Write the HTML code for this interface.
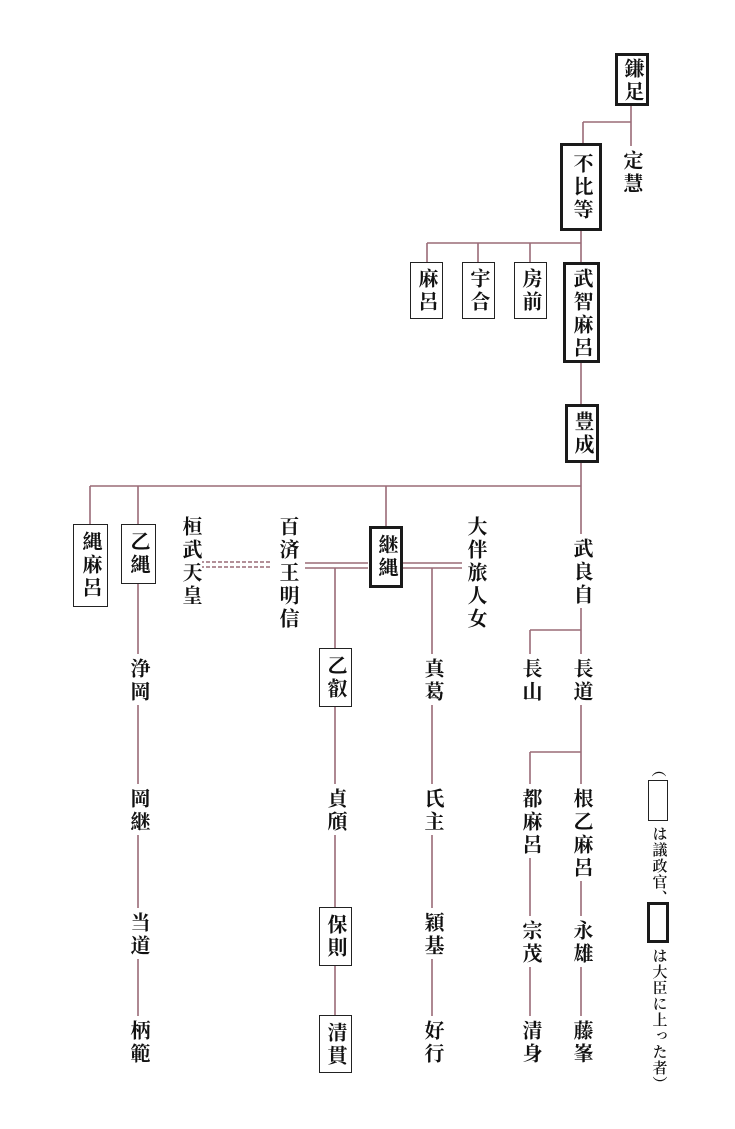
<!DOCTYPE html>
<html><head><meta charset="utf-8"><style>
body{margin:0;background:#fff;}
#c{position:relative;width:735px;height:1129px;overflow:hidden;background:#fff;}
svg{position:absolute;left:0;top:0;}
.v{position:absolute;writing-mode:vertical-rl;font-family:"Liberation Serif","Noto Serif CJK SC",serif;font-size:20px;line-height:20px;letter-spacing:3px;color:#111;font-weight:700;transform:translateX(-50%);background:#fff;padding:4px 2px 1px 2px;}
.i{background:transparent;padding:0;}
.b{position:absolute;border:1.5px solid #222;box-sizing:border-box;}
.t{border:3.5px solid #1a1a1a;}
.s{font-size:15px;line-height:15px;letter-spacing:1px;padding:0;background:transparent;font-weight:600;}
</style></head><body><div id="c">
<svg width="735" height="1129" stroke="#9a6b77" stroke-width="1.6" fill="none">
<path d="M631 105V150M583 122H631M583 122V143"/>
<path d="M581 230V262M427 243H581M427 243V262M478 243V262M530 243V262"/>
<path d="M581 362V404M581 462V540M90 486H581M90 486V524M138 486V1060M386 486V526"/>
<path d="M200 562H272M200 567H272" stroke-dasharray="4 2"/>
<path d="M305 563H368M305 568H368M402 563H462M402 568H462"/>
<path d="M335 568V1070M432 568V1060"/>
<path d="M581 600V1060M530 630H581M530 630V660M530 752H581M530 752V1060"/>
</svg>
<div class="b t" style="left:615px;top:53px;width:34px;height:53px;background:#fff"></div>
<div class="v i" style="left:632px;top:58px">鎌足</div>
<div class="v" style="left:631px;top:146px">定慧</div>
<div class="b t" style="left:560px;top:143px;width:42px;height:88px;background:#fff"></div>
<div class="v i" style="left:581px;top:153px">不比等</div>
<div class="b" style="left:410px;top:262px;width:33px;height:57px;background:#fff"></div>
<div class="v i" style="left:426px;top:268px">麻呂</div>
<div class="b" style="left:462px;top:262px;width:33px;height:57px;background:#fff"></div>
<div class="v i" style="left:478px;top:268px">宇合</div>
<div class="b" style="left:514px;top:262px;width:33px;height:57px;background:#fff"></div>
<div class="v i" style="left:530px;top:268px">房前</div>
<div class="b t" style="left:563px;top:262px;width:37px;height:101px;background:#fff"></div>
<div class="v i" style="left:581px;top:268px">武智麻呂</div>
<div class="b t" style="left:565px;top:404px;width:34px;height:59px;background:#fff"></div>
<div class="v i" style="left:582px;top:411px">豊成</div>
<div class="b" style="left:73px;top:524px;width:35px;height:83px;background:#fff"></div>
<div class="v i" style="left:90px;top:531px">縄麻呂</div>
<div class="b" style="left:121px;top:524px;width:35px;height:60px;background:#fff"></div>
<div class="v i" style="left:138px;top:531px">乙縄</div>
<div class="v" style="left:190px;top:512px">桓武天皇</div>
<div class="v" style="left:287px;top:512px">百済王明信</div>
<div class="b t" style="left:369px;top:526px;width:34px;height:62px;background:#fff"></div>
<div class="v i" style="left:386px;top:534px">継縄</div>
<div class="v" style="left:475px;top:512px">大伴旅人女</div>
<div class="v" style="left:581px;top:534px">武良自</div>
<div class="v" style="left:530px;top:654px">長山</div>
<div class="v" style="left:581px;top:654px">長道</div>
<div class="v" style="left:138px;top:654px">浄岡</div>
<div class="b" style="left:319px;top:648px;width:33px;height:59px;background:#fff"></div>
<div class="v i" style="left:335px;top:655px">乙叡</div>
<div class="v" style="left:432px;top:654px">真葛</div>
<div class="v" style="left:530px;top:784px">都麻呂</div>
<div class="v" style="left:581px;top:784px">根乙麻呂</div>
<div class="v" style="left:138px;top:784px">岡継</div>
<div class="v" style="left:335px;top:784px">貞頎</div>
<div class="v" style="left:432px;top:784px">氏主</div>
<div class="v" style="left:138px;top:908px">当道</div>
<div class="b" style="left:319px;top:907px;width:33px;height:59px;background:#fff"></div>
<div class="v i" style="left:335px;top:914px">保則</div>
<div class="v" style="left:432px;top:908px">穎基</div>
<div class="v" style="left:530px;top:916px">宗茂</div>
<div class="v" style="left:581px;top:916px">永雄</div>
<div class="v" style="left:138px;top:1016px">柄範</div>
<div class="b" style="left:319px;top:1015px;width:33px;height:58px;background:#fff"></div>
<div class="v i" style="left:335px;top:1022px">清貫</div>
<div class="v" style="left:432px;top:1016px">好行</div>
<div class="v" style="left:530px;top:1016px">清身</div>
<div class="v" style="left:581px;top:1016px">藤峯</div>
<div class="v s" style="left:657px;top:762px">（</div>
<div class="b" style="left:648px;top:780px;width:20px;height:41px"></div>
<div class="v s" style="left:658px;top:826px">は議政官、</div>
<div class="b t" style="left:647px;top:902px;width:22px;height:41px"></div>
<div class="v s" style="left:658px;top:948px">は大臣に上った者）</div>
</div></body></html>
